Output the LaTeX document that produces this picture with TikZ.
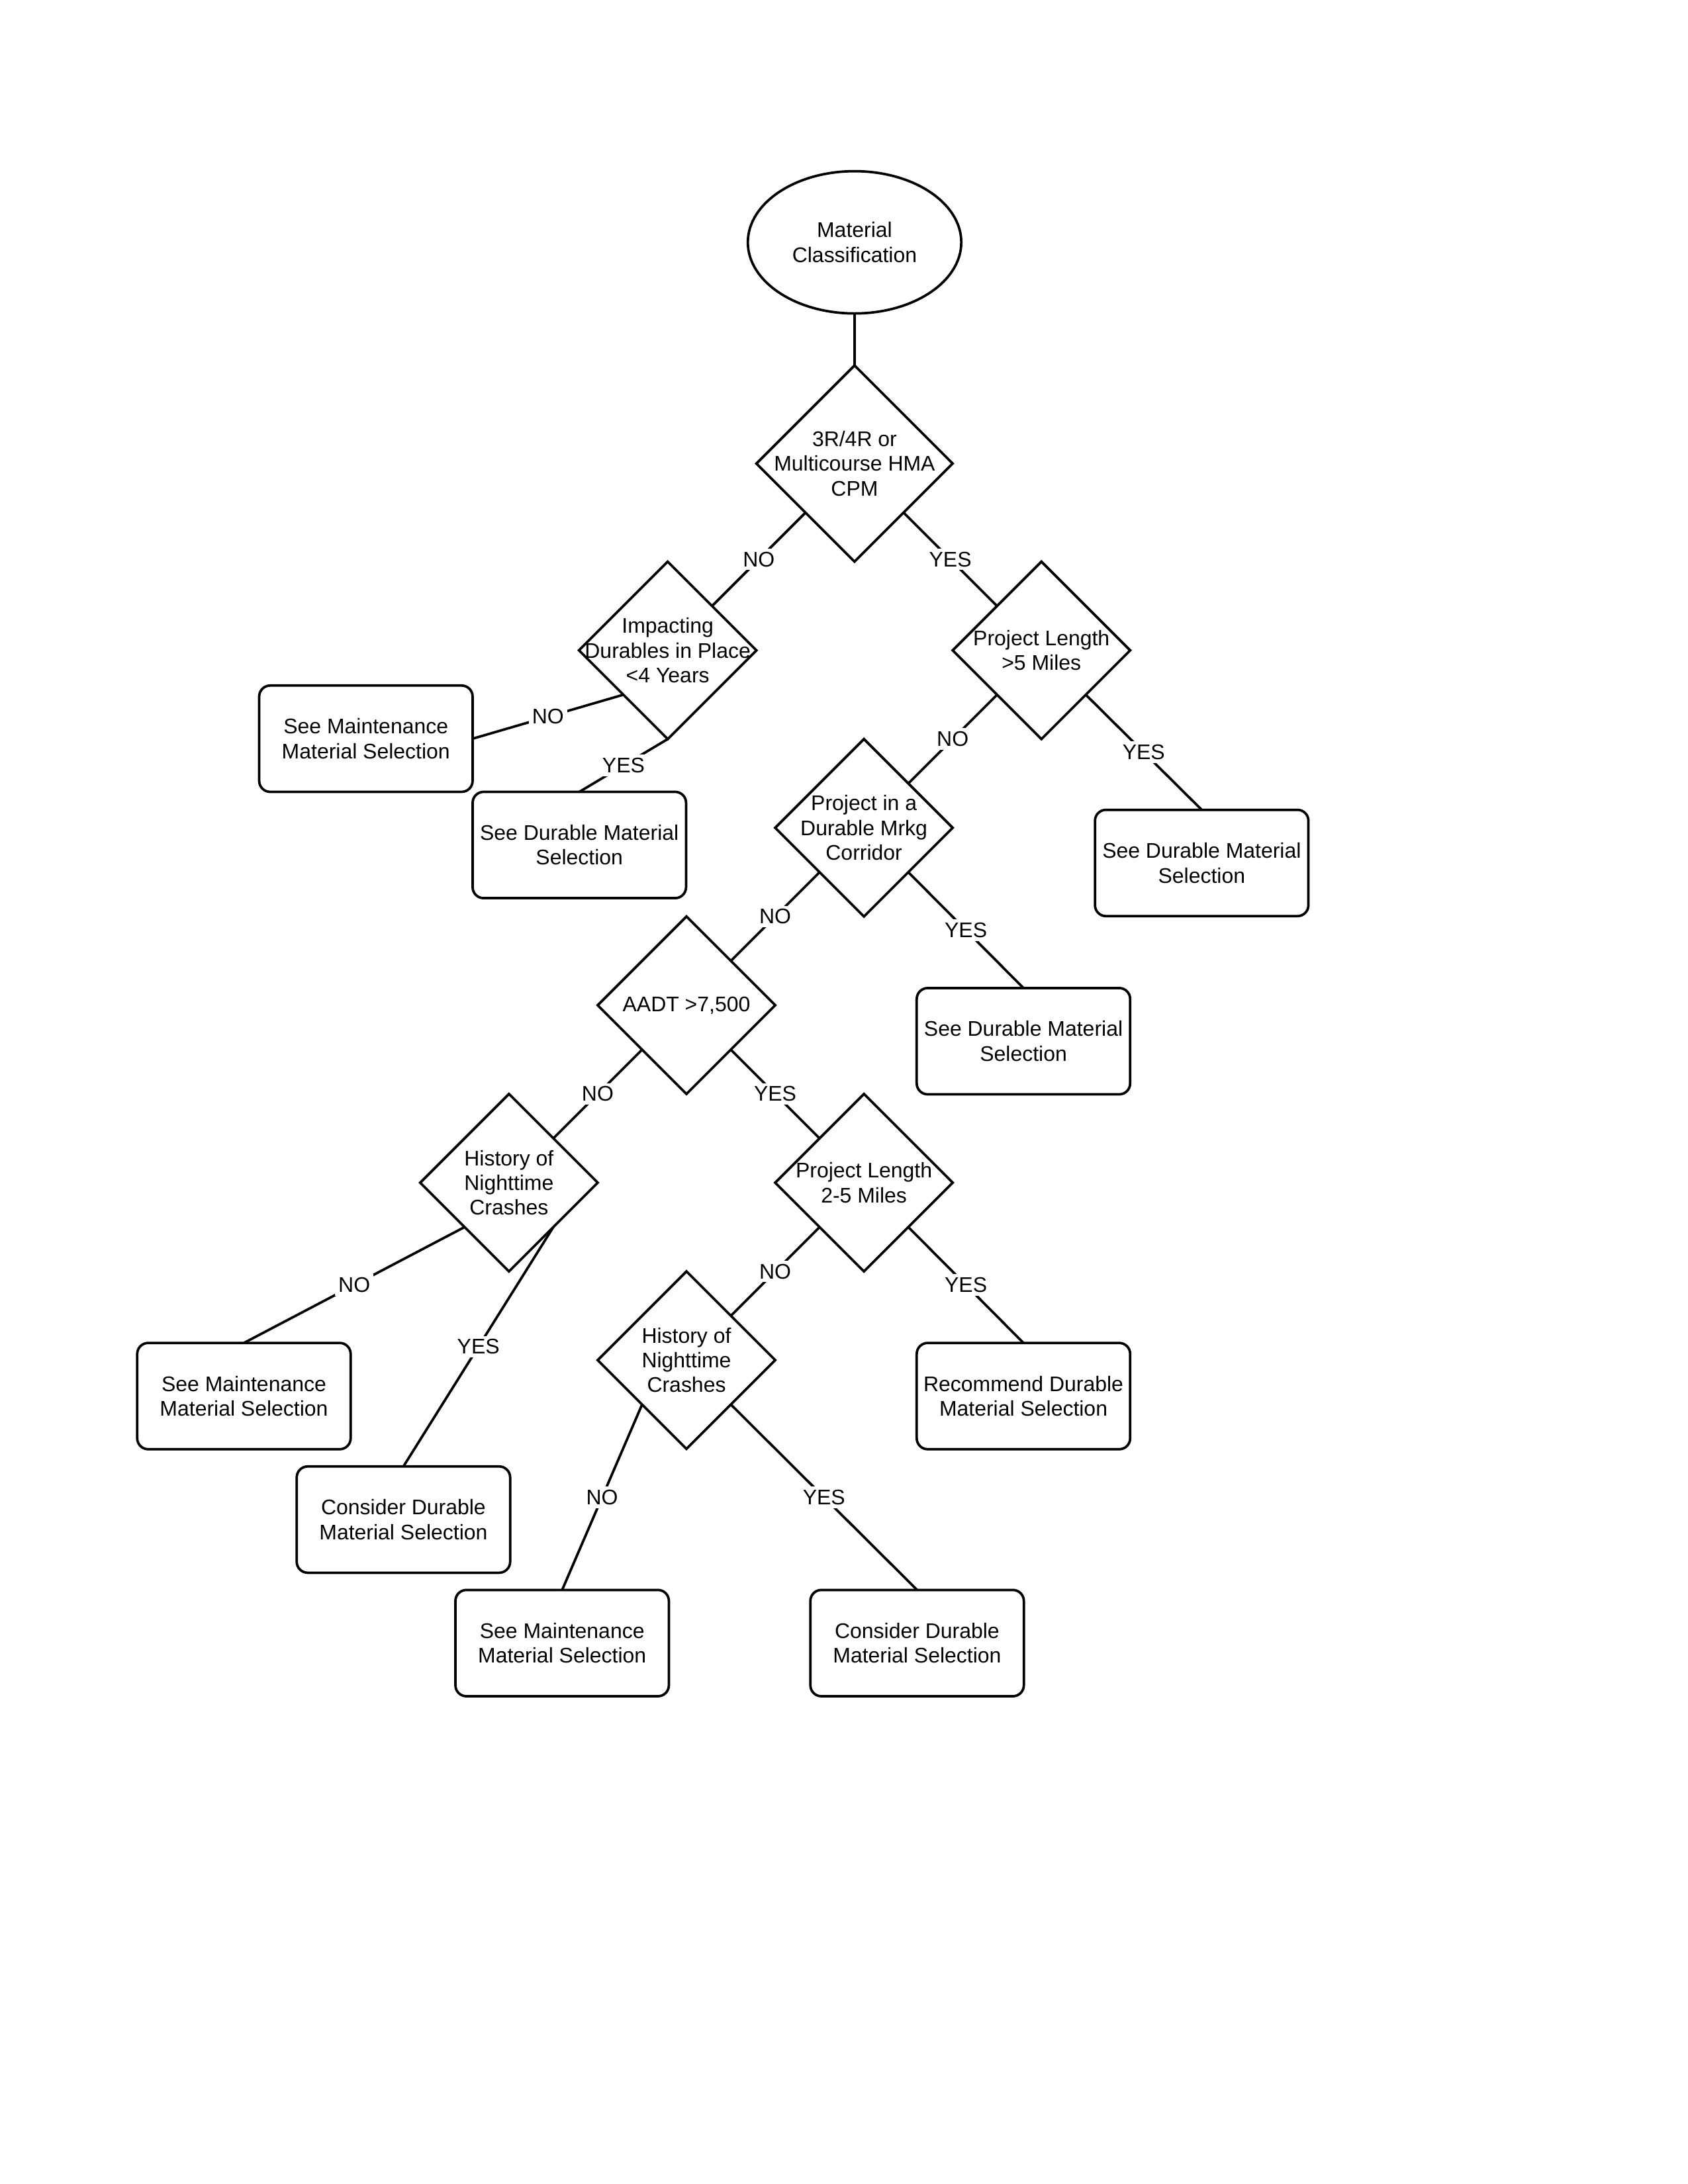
\documentclass[tikz,border=0pt]{standalone}
\usepackage{fontspec}
\setmainfont{Liberation Sans}
\usepackage{tikz}
\usetikzlibrary{shapes.geometric, positioning}
\newcommand{\flowfont}{\fontsize{7.7}{9}\selectfont}
\tikzset{
  start/.style={ellipse, draw, align=center, minimum width=2.73cm,
    minimum height=1.82cm, inner sep=0pt, outer sep=0pt, font=\flowfont, line width=0.9pt},
  dec/.style={diamond, draw, minimum size=2.27cm, inner sep=0pt,
    outer sep=0pt, line width=0.9pt},
  bigdec/.style={dec, minimum size=2.51cm},
  dtxt/.style={align=center, inner sep=0pt, font=\flowfont},
  result/.style={rectangle, draw, align=center, minimum width=2.73cm,
    minimum height=1.36cm, inner sep=0pt, outer sep=0pt, font=\flowfont,
    rounded corners=4pt, line width=0.9pt},
  line/.style={line width=0.9pt, color=black},
  ans/.style={fill=white, inner sep=1.2pt, font=\flowfont}
}

\begin{document}
\begin{tikzpicture}[on grid]
  \useasboundingbox (0,0) rectangle (21.59,-27.94);

  % Nodes
  \node[start] (cls) at (10.93,-3.10) {Material\\Classification};
  \node[bigdec, below=2.83cm of cls] (d1) {};
  \node[dtxt] (d1t) at (d1) {3R/4R or\\Multicourse HMA\\CPM};

  \node[dec, below left=2.39cm and 2.39cm of d1] (imp) {};
  \node[dtxt] (impt) at (imp) {Impacting\\Durables in Place\\<4 Years};
  \node[dec, below right=2.39cm and 2.39cm of d1] (pl5) {};
  \node[dtxt] (pl5t) at (pl5) {Project Length\\>5 Miles};
  \node[dec, below left=2.27cm and 2.27cm of pl5] (corr) {};
  \node[dtxt] (corrt) at (corr) {Project in a\\Durable Mrkg\\Corridor};
  \node[dec, below left=2.27cm and 2.27cm of corr] (aadt) {};
  \node[dtxt] (aadtt) at (aadt) {AADT >7,500};
  \node[dec, below left=2.27cm and 2.27cm of aadt] (hist1) {};
  \node[dtxt] (hist1t) at (hist1) {History of\\Nighttime\\Crashes};
  \node[dec, below right=2.27cm and 2.27cm of aadt] (pl25) {};
  \node[dtxt] (pl25t) at (pl25) {Project Length\\2-5 Miles};
  \node[dec, below left=2.27cm and 2.27cm of pl25] (hist2) {};
  \node[dtxt] (hist2t) at (hist2) {History of\\Nighttime\\Crashes};

  \node[result, below left=1.13cm and 3.86cm of imp] (maint1) {See Maintenance\\Material Selection};
  \node[result, below left=2.49cm and 1.13cm of imp] (dur1) {See Durable Material\\Selection};
  \node[result, below right=2.72cm and 2.05cm of pl5] (dur2) {See Durable Material\\Selection};
  \node[result, below right=2.73cm and 2.04cm of corr] (dur3) {See Durable Material\\Selection};
  \node[result, below left=2.73cm and 3.39cm of hist1] (maint2) {See Maintenance\\Material Selection};
  \node[result, below left=4.31cm and 1.35cm of hist1] (cons1) {Consider Durable\\Material Selection};
  \node[result, below right=2.73cm and 2.04cm of pl25] (rec) {Recommend Durable\\Material Selection};
  \node[result, below left=3.62cm and 1.59cm of hist2] (maint3) {See Maintenance\\Material Selection};
  \node[result, below right=3.62cm and 2.95cm of hist2] (cons2) {Consider Durable\\Material Selection};

  % Paths
  \draw[line] (cls) -- (d1);
  \draw[line] (d1.south west) -- node[ans] {NO} (imp.north east);
  \draw[line] (d1.south east) -- node[ans] {YES} (pl5.north west);
  \draw[line] (imp.south west) -- node[ans] {NO} (maint1.east);
  \draw[line] (imp.south) -- node[ans] {YES} (dur1.north);
  \draw[line] (pl5.south west) -- node[ans] {NO} (corr.north east);
  \draw[line] (pl5.south east) -- node[ans] {YES} (dur2.north);
  \draw[line] (corr.south west) -- node[ans] {NO} (aadt.north east);
  \draw[line] (corr.south east) -- node[ans] {YES} (dur3.north);
  \draw[line] (aadt.south west) -- node[ans] {NO} (hist1.north east);
  \draw[line] (aadt.south east) -- node[ans] {YES} (pl25.north west);
  \draw[line] (hist1.south west) -- node[ans] {NO} (maint2.north);
  \draw[line] (hist1.south east) -- node[ans] {YES} (cons1.north);
  \draw[line] (pl25.south west) -- node[ans] {NO} (hist2.north east);
  \draw[line] (pl25.south east) -- node[ans] {YES} (rec.north);
  \draw[line] (hist2.south west) -- node[ans] {NO} (maint3.north);
  \draw[line] (hist2.south east) -- node[ans] {YES} (cons2.north);

\end{tikzpicture}
\end{document}
